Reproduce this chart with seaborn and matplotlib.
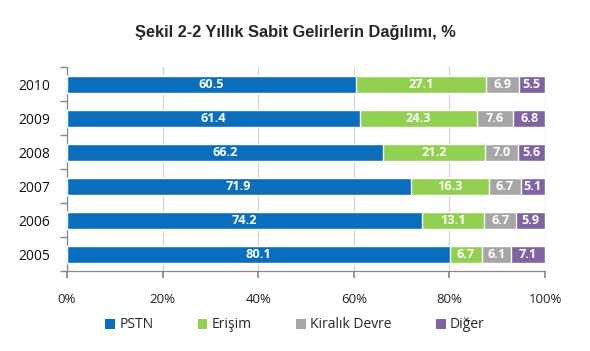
import matplotlib
matplotlib.use("Agg")
import matplotlib.pyplot as plt
import seaborn as sns
import pandas as pd
import numpy as np
from matplotlib.patches import Patch

years = ["2010", "2009", "2008", "2007", "2006", "2005"]
pstn = [60.5, 61.4, 66.2, 71.9, 74.2, 80.1]
erisim = [27.1, 24.3, 21.2, 16.3, 13.1, 6.7]
kiralik = [6.9, 7.6, 7.0, 6.7, 6.7, 6.1]
diger = [5.5, 6.8, 5.6, 5.1, 5.9, 7.1]
series_names = ["PSTN", "Erişim", "Kiralık Devre", "Diğer"]
colors = ["#0A6EBD", "#92D050", "#A6A6A6", "#8064A2"]
xticks = [0, 20, 40, 60, 80, 100]
xticklabels = ["0%", "20%", "40%", "60%", "80%", "100%"]

sns.set_theme(style="white")
plt.rcParams["font.family"] = ["Open Sans", "DejaVu Sans"]

fig = plt.figure(figsize=(5.9, 3.51), dpi=100)
ax = fig.add_axes([67/590, 1-271/351, (545-67)/590, (271-67)/351])

vals = np.array([pstn, erisim, kiralik, diger])
cum = np.cumsum(vals, axis=0)

# draw from largest cumulative to smallest (stacked effect)
for i in range(3, -1, -1):
    df = pd.DataFrame({"year": years, "value": cum[i]})
    sns.barplot(data=df, x="value", y="year", order=years, orient="h",
                color=colors[i], saturation=1, width=0.5, ax=ax, zorder=3)

# labels
for i in range(4):
    starts = cum[i] - vals[i]
    for j, y in enumerate(years):
        ax.text(starts[j] + vals[i][j] / 2, j, f"{vals[i][j]:.1f}",
                ha="center", va="center", color="white",
                fontsize=9.2, fontweight="bold", zorder=5)

ax.set_xlim(0, 100)
ax.set_ylim(5.5, -0.5)
ax.set_xlabel("")
ax.set_ylabel("")
ax.set_xticks(xticks)
ax.set_xticklabels(xticklabels, fontsize=9.5, color="#222222")
ax.tick_params(axis="x", direction="out", length=5, color="#888888", pad=11, bottom=True)
ax.set_yticks(range(len(years)))
ax.set_yticklabels(years, fontsize=10, color="#111111")
ax.tick_params(axis="y", which="major", length=0, pad=12)
ax.set_yticks(np.arange(-0.5, 6, 1), minor=True)
ax.tick_params(axis="y", which="minor", direction="out", length=5, color="#888888", left=True)

ax.xaxis.grid(True, color="#D4D4D4", linewidth=0.9, zorder=0)
ax.set_axisbelow(True)
for s in ["top", "right"]:
    ax.spines[s].set_visible(False)
for s in ["left", "bottom"]:
    ax.spines[s].set_color("#888888")
    ax.spines[s].set_linewidth(0.9)

fig.text(0.5, 1-32/351, "Şekil 2-2 Yıllık Sabit Gelirlerin Dağılımı, %",
         ha="center", va="center", fontsize=11.8, fontweight="bold",
         family=["Liberation Sans", "DejaVu Sans"])

handles = [Patch(facecolor=c, edgecolor="none") for c in colors]
fig.legend(handles, series_names, loc="center", bbox_to_anchor=(0.5, 1-325/351),
           ncol=4, frameon=False, fontsize=10, handlelength=0.7, handleheight=0.7,
           handletextpad=0.3, columnspacing=3.2)

fig.savefig("out.png", dpi=100)
